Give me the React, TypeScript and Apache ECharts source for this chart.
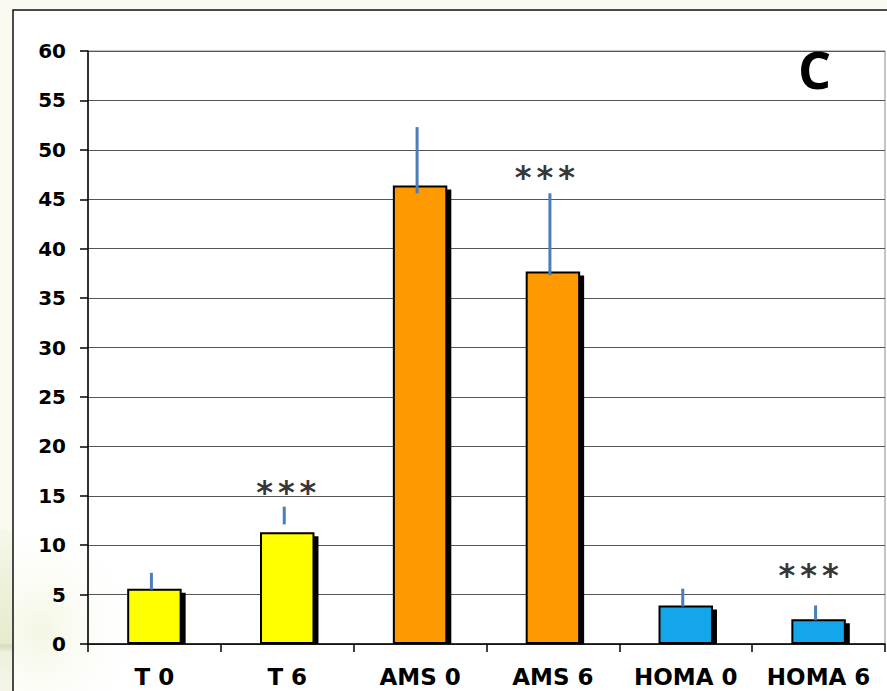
import React, { useEffect, useRef } from "react";
import * as echarts from "echarts";

const categories = ["T 0", "T 6", "AMS 0", "AMS 6", "HOMA 0", "HOMA 6"];
const values = [5.6, 11.3, 46.4, 37.7, 3.9, 2.5];
const errLow = [5.5, 12.1, 45.6, 37.3, 3.8, 2.4];
const errHigh = [7.2, 13.9, 52.3, 45.6, 5.6, 3.9];
const barColors = ["#ffff00", "#ffff00", "#ff9900", "#ff9900", "#13a6ea", "#13a6ea"];
const starCats = [1, 3, 5];
const starValues = [15.4, 47.3, 7.0];
const starText = "{a|*}{s|}{a|*}{s|}{a|*}";
const yTicks = [0, 5, 10, 15, 20, 25, 30, 35, 40, 45, 50, 55, 60];
const panelLetter = "C";

export default function App() {
  const ref = useRef<HTMLDivElement>(null);
  useEffect(() => {
    if (!ref.current) return;
    const chart = echarts.init(ref.current, null, { renderer: "svg" });
    const starOffsets = [[-1, 0], [-8, 0], [-10, 0]];
    chart.setOption({
      animation: false,
      backgroundColor: "#fbfaf1",
      graphic: [
        {
          type: "rect",
          z: -100,
          shape: { x: 0, y: 530, width: 13, height: 161 },
          style: {
            fill: new echarts.graphic.LinearGradient(0, 0, 0, 1, [
              { offset: 0, color: "#f6f7ea" },
              { offset: 0.3, color: "#eef2dc" },
              { offset: 0.7, color: "#e6ebd0" },
              { offset: 0.72, color: "#d6dbbd" },
              { offset: 0.76, color: "#eef1de" },
              { offset: 1, color: "#f4f5e8" },
            ]),
          },
        },
        {
          type: "rect",
          z: -90,
          shape: { x: 13, y: 10, width: 900, height: 700 },
          style: { fill: "#ffffff", stroke: "#111", lineWidth: 1.5 },
        },
        {
          type: "rect",
          z: -80,
          shape: { x: 14, y: 540, width: 130, height: 151 },
          style: {
            fill: new echarts.graphic.RadialGradient(0.2, 0.6, 0.8, [
              { offset: 0, color: "rgba(228,236,190,0.45)" },
              { offset: 1, color: "rgba(255,255,255,0)" },
            ]),
          },
        },
        {
          type: "text",
          z: 100,
          x: 798,
          y: 42,
          style: {
            text: panelLetter,
            font: "bold 52px 'Open Sans'",
            fill: "#000",
          },
        },
      ],
      grid: {
        left: 88,
        right: 2,
        top: 51,
        bottom: 47,
        show: true,
        borderColor: "#8a8a8a",
        borderWidth: 1,
        backgroundColor: "transparent",
      },
      xAxis: {
        type: "category",
        data: categories,
        boundaryGap: true,
        z: 10,
        axisLine: { lineStyle: { color: "#000", width: 1.5 } },
        axisTick: { show: true, alignWithLabel: false, length: 8, lineStyle: { color: "#000", width: 1.5 } },
        axisLabel: {
          color: "#000",
          fontFamily: "DejaVu Sans",
          fontWeight: "bold",
          fontSize: 23,
          margin: 21,
          interval: 0,
        },
      },
      yAxis: {
        type: "value",
        min: 0,
        max: 60,
        interval: 5,
        axisLine: { show: true, lineStyle: { color: "#000", width: 1.5 } },
        axisTick: { show: true, inside: false, length: 8, lineStyle: { color: "#000", width: 1.5 } },
        splitLine: { show: true, lineStyle: { color: "#555", width: 1.2 } },
        axisLabel: {
          color: "#000",
          fontFamily: "DejaVu Sans",
          fontWeight: "bold",
          fontSize: 20,
          margin: 22,
          formatter: (v: number) => (yTicks.includes(v) ? String(v) : ""),
        },
      },
      series: [
        {
          type: "custom",
          z: 1,
          data: values.map((v, i) => [i, v]),
          renderItem: (params: any, api: any) => {
            const top = api.coord([api.value(0), api.value(1)]);
            const base = api.coord([api.value(0), 0]);
            const w = api.size([1, 0])[0] * 0.41;
            return {
              type: "rect",
              shape: { x: top[0] - w / 2 + 4, y: top[1] + 4, width: w, height: base[1] - top[1] - 4 },
              style: { fill: "#000" },
            };
          },
        },
        {
          type: "bar",
          barWidth: "41%",
          data: values.map((v, i) => ({
            value: v,
            itemStyle: { color: barColors[i] },
          })),
          itemStyle: {
            borderColor: "#000",
            borderWidth: 2,
          },
          z: 2,
        },
        {
          type: "custom",
          z: 5,
          data: errLow.map((lo, i) => [i, lo, errHigh[i]]),
          renderItem: (params: any, api: any) => {
            const a = api.coord([api.value(0), api.value(1)]);
            const b = api.coord([api.value(0), api.value(2)]);
            return {
              type: "line",
              shape: { x1: a[0] - 3, y1: a[1], x2: b[0] - 3, y2: b[1] },
              style: { stroke: "#4a7ebb", lineWidth: 3 },
            };
          },
        },
        {
          type: "scatter",
          z: 6,
          symbolSize: 0,
          data: starCats.map((c, i) => ({
            value: [c, starValues[i]],
            label: {
              show: true,
              position: "inside",
              formatter: starText,
              offset: starOffsets[i],
              rich: {
                a: {
                  color: "#000",
                  fontFamily: "DejaVu Sans",
                  fontWeight: "bold",
                  fontSize: 32,
                },
                s: { width: 5 },
              },
            },
          })),
        },
      ],
    });
    return () => chart.dispose();
  }, []);
  return (
    <div
      ref={ref}
      style={{ position: "absolute", left: 0, top: 0, width: 887, height: 691 }}
    />
  );
}
